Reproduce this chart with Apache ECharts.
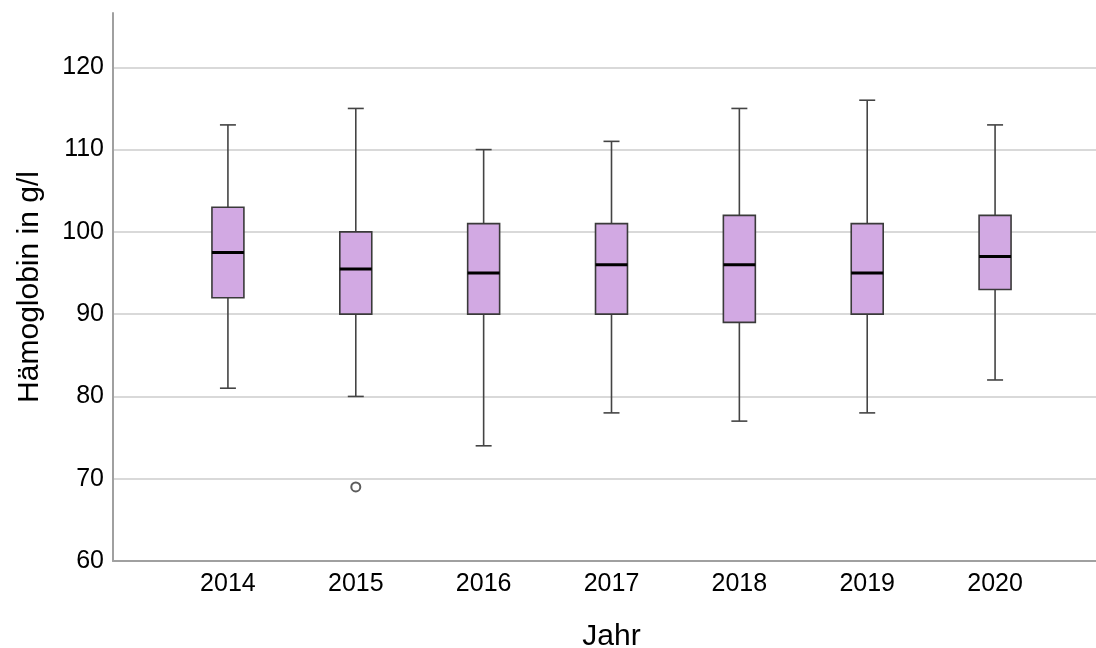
<!DOCTYPE html>
<html><head><meta charset="utf-8">
<script src="https://cdn.jsdelivr.net/npm/echarts@6/dist/echarts.min.js"></script>
<style>html,body{margin:0;padding:0;background:#fff}#c{width:1096px;height:648px}</style>
</head><body><div id="c"></div>
<script>
const years = ['2014','2015','2016','2017','2018','2019','2020'];
const lowWhisker = [81, 80, 74, 78, 77, 78, 82];
const q1 =         [92, 90, 90, 90, 89, 90, 93];
const median =     [97.5, 95.5, 95, 96, 96, 95, 97];
const q3 =         [103, 100, 101, 101, 102, 101, 102];
const highWhisker =[113, 115, 110, 111, 115, 116, 113];
const outlierYears = ['2015'];
const outlierValues = [69];
const yTicks = [60, 70, 80, 90, 100, 110, 120];

const boxData = years.map((y, i) => [i, lowWhisker[i], q1[i], median[i], q3[i], highWhisker[i]]);
const outlierData = outlierYears.map((y, i) => [years.indexOf(y), outlierValues[i]]);
const FONT = '"Liberation Sans", Arial, sans-serif';
const YMIN = 60, YMAX = 126.6;

function renderBox(params, api) {
  const x = api.value(0);
  const pLow = api.coord([x, api.value(1)]);
  const pQ1 = api.coord([x, api.value(2)]);
  const pMed = api.coord([x, api.value(3)]);
  const pQ3 = api.coord([x, api.value(4)]);
  const pHigh = api.coord([x, api.value(5)]);
  const band = api.size([1, 0])[0];
  const hw = band * 0.125;
  const cw = band * 0.0625;
  const cx = pMed[0];
  const lineStyle = { stroke: '#444', lineWidth: 1.6 };
  return {
    type: 'group',
    children: [
      { type: 'line', shape: { x1: cx, y1: pQ3[1], x2: cx, y2: pHigh[1] }, style: lineStyle },
      { type: 'line', shape: { x1: cx, y1: pQ1[1], x2: cx, y2: pLow[1] }, style: lineStyle },
      { type: 'line', shape: { x1: cx - cw, y1: pHigh[1], x2: cx + cw, y2: pHigh[1] }, style: lineStyle },
      { type: 'line', shape: { x1: cx - cw, y1: pLow[1], x2: cx + cw, y2: pLow[1] }, style: lineStyle },
      { type: 'rect', shape: { x: cx - hw, y: pQ3[1], width: 2 * hw, height: pQ1[1] - pQ3[1] },
        style: { fill: '#d2a9e3', stroke: '#3a3a3a', lineWidth: 1.6 } },
      { type: 'line', shape: { x1: cx - hw, y1: pMed[1], x2: cx + hw, y2: pMed[1] },
        style: { stroke: '#000', lineWidth: 3 } }
    ]
  };
}

const chart = echarts.init(document.getElementById('c'), null, { renderer: 'canvas' });
chart.setOption({
  animation: false,
  backgroundColor: '#fff',
  grid: [
    { left: 113, right: 0, top: 13, bottom: 87, containLabel: false, outerBoundsMode: 'none' },
    { left: 164, right: 37, top: 13, bottom: 87, containLabel: false, outerBoundsMode: 'none' }
  ],
  xAxis: [
    { gridIndex: 0, type: 'value', min: 0, max: 1,
      axisLine: { show: true, lineStyle: { color: '#a0a0a0', width: 2 } },
      axisTick: { show: false }, axisLabel: { show: false }, splitLine: { show: false } },
    { gridIndex: 1, type: 'category', data: years,
      axisLine: { show: false }, axisTick: { show: false },
      axisLabel: { color: '#000', fontSize: 25, fontFamily: FONT, margin: 11 },
      name: 'Jahr', nameLocation: 'middle', nameGap: 61,
      nameTextStyle: { color: '#000', fontSize: 30, fontFamily: FONT } }
  ],
  yAxis: [
    { gridIndex: 0, type: 'value', min: YMIN, max: YMAX, interval: 10,
      axisLine: { show: true, lineStyle: { color: '#a0a0a0', width: 2 } },
      axisTick: { show: false },
      axisLabel: { color: '#000', fontSize: 25, fontFamily: FONT, margin: 9, showMaxLabel: false,
        formatter: v => yTicks.includes(v) ? String(v) : '' },
      splitLine: { show: true, showMinLine: false, showMaxLine: false, lineStyle: { color: '#cccccc', width: 1.6 } },
      name: 'Hämoglobin in g/l', nameLocation: 'middle', nameGap: 68,
      nameTextStyle: { color: '#000', fontSize: 30, fontFamily: FONT } },
    { gridIndex: 1, type: 'value', min: YMIN, max: YMAX, interval: 10, show: false,
      splitLine: { show: false } }
  ],
  series: [
    { type: 'custom', xAxisIndex: 1, yAxisIndex: 1, renderItem: renderBox,
      encode: { x: 0, y: [1, 2, 3, 4, 5] }, data: boxData, z: 5 },
    { type: 'scatter', xAxisIndex: 1, yAxisIndex: 1, symbol: 'emptyCircle', symbolSize: 9,
      itemStyle: { color: '#333', borderColor: '#333', borderWidth: 1.4 },
      data: outlierData, z: 6 }
  ]
});
</script></body></html>
